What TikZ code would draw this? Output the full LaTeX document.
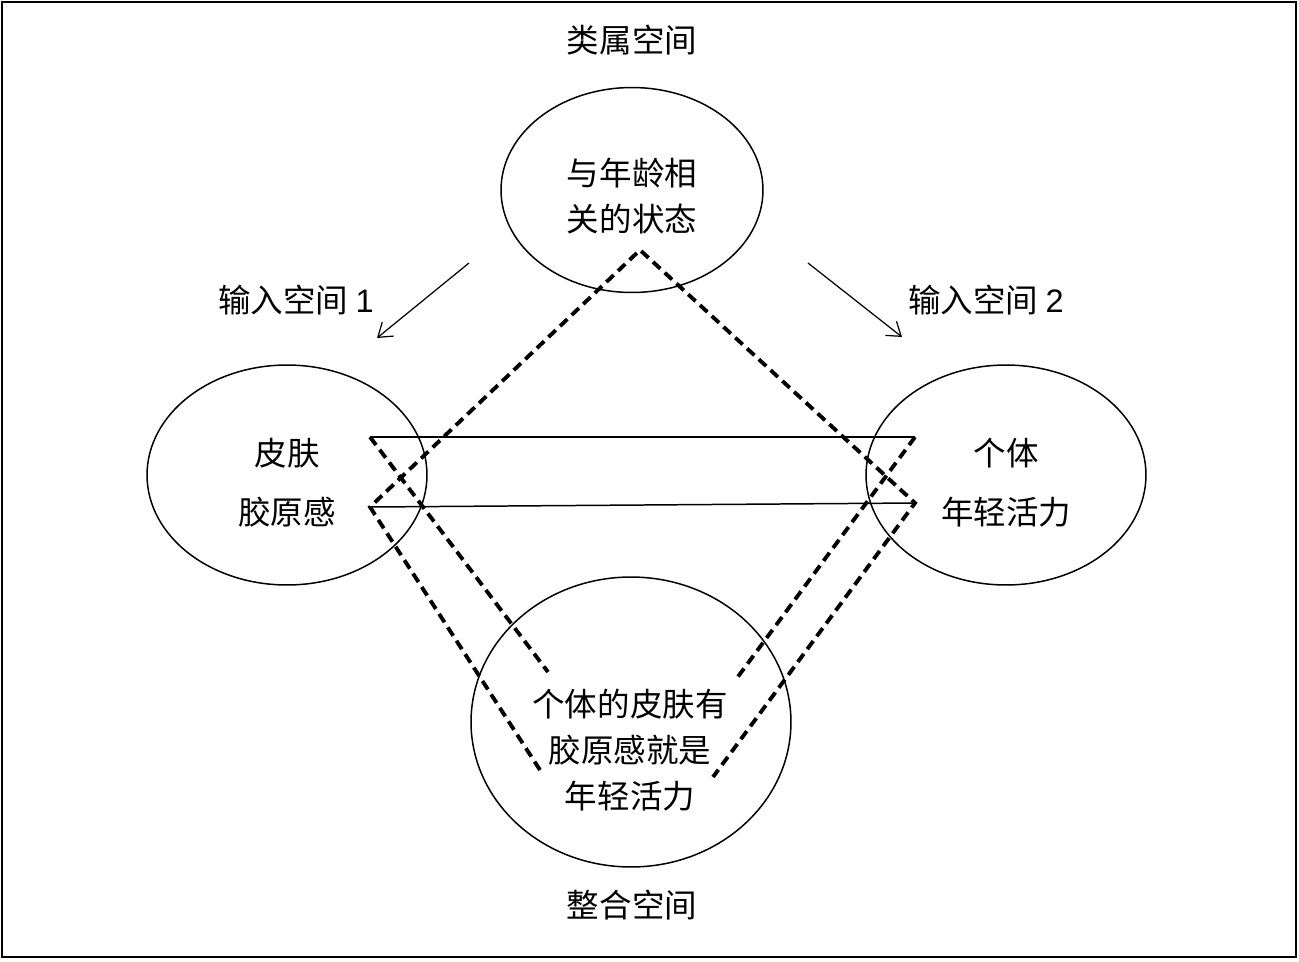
\documentclass[tikz,border=0pt]{standalone}
\usepackage{fontspec}
\setmainfont{Liberation Sans}
\newfontfamily\cjk{Noto Sans CJK SC}
\usetikzlibrary{arrows.meta,shapes.geometric}

\begin{document}
\begin{tikzpicture}[
  x=0.02cm, y=-0.02cm,
  space/.style={draw, ellipse, line width=0.85pt, inner sep=0pt},
  lbl/.style={font=\cjk\fontsize{18.5}{22}\selectfont, align=center, inner sep=0pt},
  arr/.style={-{Straight Barb[length=2.6mm,width=3.6mm]}, line width=0.7pt},
  link/.style={line width=0.85pt},
  map/.style={line width=2.2pt, dash pattern=on 5.7pt off 3.4pt}
]
% Fixed pixel-like coordinates (x right, y down) so every node sits
% exactly where the reference puts it.
\useasboundingbox (0,0) rectangle (1299,961);
\draw[line width=0.85pt] (2,2) rectangle (1296,957);

% the four mental spaces
\node[space, minimum width=5.24cm, minimum height=4.1cm] (generic) at (632,190) {};
\node[space, minimum width=5.6cm, minimum height=4.4cm]  (input1)  at (287,475) {};
\node[space, minimum width=5.6cm, minimum height=4.4cm]  (input2)  at (1006,475) {};
\node[space, minimum width=6.4cm, minimum height=5.8cm]  (blend)   at (631,722) {};

% titles
\node[lbl] (genericTtl) at (632,40)  {类属空间};
\node[lbl] (input1Ttl)  at (296,300) {输入空间 {\rmfamily 1}};
\node[lbl] (input2Ttl)  at (986,300) {输入空间 {\rmfamily 2}};
\node[lbl] (blendTtl)   at (632,905) {整合空间};

% contents
\node[lbl] (genericTxt) at (632,196) {与年龄相\\[0.14cm]关的状态};
\node[lbl] (input1Txt)  at (287,483) {皮肤\\[0.4cm]胶原感};
\node[lbl] (input2Txt)  at (1006,483) {个体\\[0.4cm]年轻活力};
\node[lbl] (blendTxt)   at (630,750) {个体的皮肤有\\[0.14cm]胶原感就是\\[0.14cm]年轻活力};

% end points of the connectors
\coordinate (apex) at (640,250);
\coordinate (l1) at (370,437);
\coordinate (l2) at (370,507);
\coordinate (r1) at (915,437);
\coordinate (r2) at (915,503);
\coordinate (b1) at (548,672);
\coordinate (b2) at (540,770);
\coordinate (b3) at (737,678);
\coordinate (b4) at (713,777);
\coordinate (a1s) at (469,263);
\coordinate (a1e) at (377,338);
\coordinate (a2s) at (808,263);
\coordinate (a2e) at (902,337);

% projection arrows
\draw[arr] (a1s) -- (a1e);
\draw[arr] (a2s) -- (a2e);

% cross-space counterparts
\draw[link] (l1) -- (r1);
\draw[link] (l2) -- (r2);

% generic and blend mappings
\draw[map] (b2) -- (l2) -- (apex) -- (r2) -- (b4);
\draw[map] (l1) -- (b1);
\draw[map] (r1) -- (b3);
\end{tikzpicture}
\end{document}
